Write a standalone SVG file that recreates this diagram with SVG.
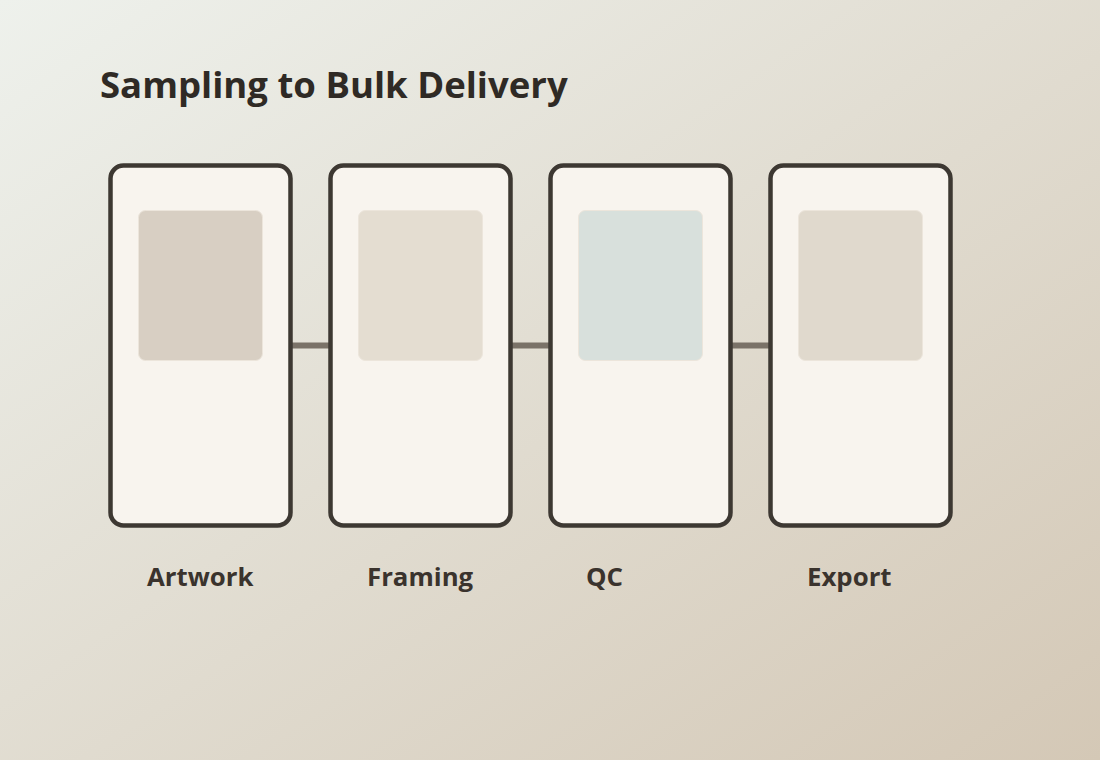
<svg xmlns="http://www.w3.org/2000/svg" width="1100" height="760" viewBox="0 0 1100 760">
  <defs>
    <linearGradient id="bg" x1="0" y1="0" x2="1" y2="1">
      <stop offset="0" stop-color="#eef1ec"/>
      <stop offset="1" stop-color="#d4c8b6"/>
    </linearGradient>
    <style>
      .card { fill: #f8f4ee; stroke: #3d3832; stroke-width: 4.5; }
      .thumb { stroke: #ece5db; stroke-width: 1; }
      .conn { stroke: #7a7268; stroke-width: 6; fill: none; }
      .label { font-family: "Open Sans", "Noto Sans", sans-serif; font-weight: 700; font-size: 25.8px; fill: #3a332d; }
      .title { font-family: "Open Sans", "Noto Sans", sans-serif; font-weight: 700; font-size: 36.5px; fill: #2f2a25; }
    </style>
  </defs>
  <rect x="0" y="0" width="1100" height="760" fill="url(#bg)"/>
  <text class="title" x="100" y="98">Sampling to Bulk Delivery</text>

  <g id="connectors">
    <line class="conn" x1="292" y1="345.5" x2="329" y2="345.5"/>
    <line class="conn" x1="512" y1="345.5" x2="549" y2="345.5"/>
    <line class="conn" x1="732" y1="345.5" x2="769" y2="345.5"/>
  </g>

  <g id="node-artwork">
    <rect class="card" x="110.5" y="165.5" width="180" height="360" rx="13"/>
    <rect class="thumb" x="138.5" y="210.5" width="124" height="150" rx="7" fill="#d8cfc3"/>
    <text class="label" x="147" y="586">Artwork</text>
  </g>
  <g id="node-framing">
    <rect class="card" x="330.5" y="165.5" width="180" height="360" rx="13"/>
    <rect class="thumb" x="358.5" y="210.5" width="124" height="150" rx="7" fill="#e4ddd1"/>
    <text class="label" x="367" y="586">Framing</text>
  </g>
  <g id="node-qc">
    <rect class="card" x="550.5" y="165.5" width="180" height="360" rx="13"/>
    <rect class="thumb" x="578.5" y="210.5" width="124" height="150" rx="7" fill="#d8e0dc"/>
    <text class="label" x="586" y="586">QC</text>
  </g>
  <g id="node-export">
    <rect class="card" x="770.5" y="165.5" width="180" height="360" rx="13"/>
    <rect class="thumb" x="798.5" y="210.5" width="124" height="150" rx="7" fill="#e0d9cd"/>
    <text class="label" x="807" y="586">Export</text>
  </g>
</svg>
